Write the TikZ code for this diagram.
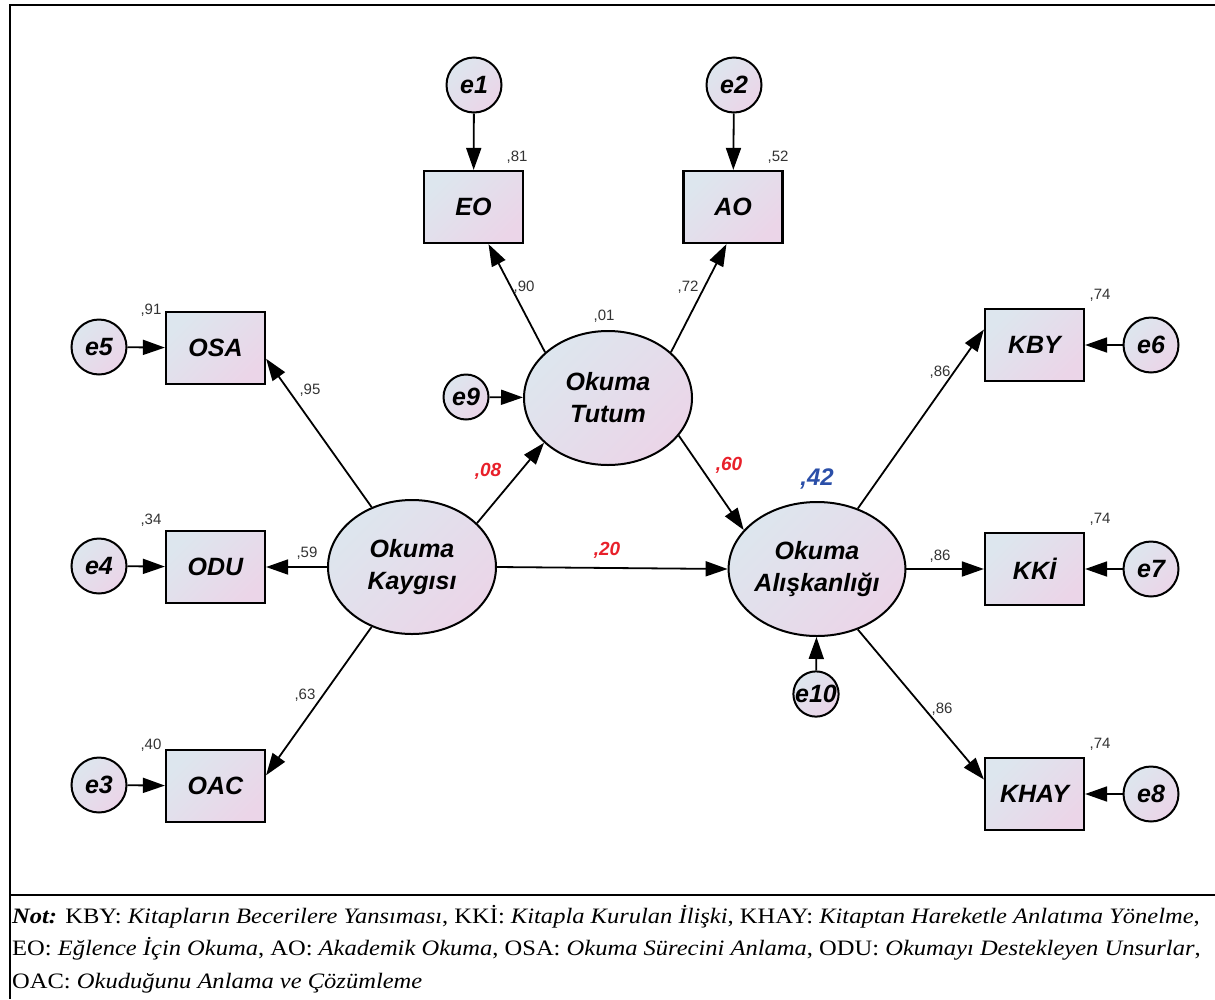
\documentclass[tikz,border=0pt]{standalone}
\usepackage{fontspec}
\setmainfont{Liberation Serif}
\setsansfont{Liberation Sans}
\usetikzlibrary{arrows.meta,shapes.geometric}
\definecolor{cA}{HTML}{DDE6EE}
\definecolor{cB}{HTML}{EBD5E8}
\definecolor{lblgray}{HTML}{333333}
\definecolor{valred}{HTML}{E8202A}
\definecolor{valblue}{HTML}{2B4FA8}
\tikzset{
  fillgrad/.style={shading=axis, top color=cA, bottom color=cB, shading angle=45},
  obs/.style={rectangle, draw=black, line width=2.2pt, fillgrad, minimum width=99pt, minimum height=72pt, inner sep=0pt,
    font=\sffamily\bfseries\itshape\fontsize{25}{30}\selectfont},
  lat/.style={ellipse, draw=black, line width=2pt, fillgrad, minimum width=168pt, minimum height=134pt, inner sep=0pt, align=center,
    font=\sffamily\bfseries\itshape\fontsize{25}{32}\selectfont},
  errc/.style={circle, draw=black, line width=2pt, fillgrad, minimum size=55pt, inner sep=0pt,
    font=\sffamily\bfseries\itshape\fontsize{25}{30}\selectfont},
  errs/.style={errc, minimum size=45pt},
  lbl/.style={inner sep=0pt, text=lblgray, font=\sffamily\fontsize{15}{18}\selectfont},
  redlbl/.style={inner sep=0pt, text=valred, font=\sffamily\bfseries\itshape\fontsize{19}{22}\selectfont},
  bluelbl/.style={inner sep=0pt, text=valblue, font=\sffamily\bfseries\itshape\fontsize{24}{28}\selectfont},
  conn/.style={line width=1.8pt, -{Triangle[length=22pt,width=15pt]}},
  notetext/.style={anchor=base west, inner sep=0pt, font=\fontsize{22}{26}\selectfont}
}
\newcommand{\notescale}[1]{\scalebox{1.115}[1]{#1}}
\begin{document}
\begin{tikzpicture}[x=1pt,y=-1pt]
\useasboundingbox (0,0) rectangle (1215,999);
% frame
\draw[line width=2pt] (1215,5) -- (10,5) -- (10,999);
\draw[line width=2pt] (10,895) -- (1215,895);

% latent variables
\node[lat] (kaygi) at (412,567) {Okuma\\Kaygısı};
\node[lat] (tutum) at (608,398) {Okuma\\Tutum};
\node[lat] (alis) at (817,569) {Okuma\\Alışkanlığı};

% observed
\node[obs] (eo) at (473.5,207) {EO};
\node[obs] (ao) at (733,207) {AO};
\node[obs] (osa) at (215.5,348) {OSA};
\node[obs] (odu) at (215.5,567) {ODU};
\node[obs] (oac) at (215.5,786) {OAC};
\node[obs] (kby) at (1034.5,345) {KBY};
\node[obs] (kki) at (1034.5,569) {KKİ};
\node[obs] (khay) at (1034.5,794) {KHAY};

% errors
\node[errc] (e1) at (474,85) {e1};
\node[errc] (e2) at (734,85) {e2};
\node[errc] (e5) at (99,347) {e5};
\node[errc] (e4) at (99,566) {e4};
\node[errc] (e3) at (99,785) {e3};
\node[errc] (e6) at (1151,345) {e6};
\node[errc] (e7) at (1151,569) {e7};
\node[errc] (e8) at (1151,794) {e8};
\node[errs] (e9) at (466,397) {e9};
\node[errs] (e10) at (816,694) {e10};

% error arrows
\draw[conn] (e1) -- (eo);
\draw[conn] (e2) -- (ao);
\draw[conn] (e5) -- (osa);
\draw[conn] (e4) -- (odu);
\draw[conn] (e3) -- (oac);
\draw[conn] (e6) -- (kby);
\draw[conn] (e7) -- (kki);
\draw[conn] (e8) -- (khay);
\draw[conn] (e9) -- (tutum);
\draw[conn] (e10) -- (alis);

% loadings and paths
\draw[conn] (tutum.144) -- (eo.-68);
\draw[conn] (tutum.36) -- (ao.260);
\draw[conn] (kaygi.124) -- (osa.-12);
\draw[conn] (kaygi.west) -- (odu.east);
\draw[conn] (kaygi.236) -- (oac.12);
\draw[conn] (kaygi.34) -- (tutum.215);
\draw[conn] (tutum.-28) -- (alis.152);
\draw[conn] (kaygi.east) -- (alis.west);
\draw[conn] (alis.56) -- (kby.163);
\draw[conn] (alis.east) -- (kki.west);
\draw[conn] (alis.-56) -- (khay.164);

% small labels
\node[lbl] (r81) at (517,157) {,81};
\node[lbl] (r52) at (778,157) {,52};
\node[lbl] (r91) at (151,310) {,91};
\node[lbl] (r34) at (151,520) {,34};
\node[lbl] (r40) at (151,745) {,40};
\node[lbl] (r74a) at (1100,295) {,74};
\node[lbl] (r74b) at (1100,519) {,74};
\node[lbl] (r74c) at (1100,744) {,74};
\node[lbl] (r01) at (604,316) {,01};
\node[lbl] (l95) at (310,390) {,95};
\node[lbl] (l59) at (307,553) {,59};
\node[lbl] (l63) at (305,695) {,63};
\node[lbl] (l90) at (524,287) {,90};
\node[lbl] (l72) at (688,287) {,72};
\node[lbl] (l86a) at (940,372) {,86};
\node[lbl] (l86b) at (940,556) {,86};
\node[lbl] (l86c) at (942,709) {,86};

\node[redlbl] (p08) at (488,471) {,08};
\node[redlbl] (p60) at (729,465) {,60};
\node[redlbl] (p20) at (607,550) {,20};
\node[bluelbl] (r42) at (817,479) {,42};

% note
\node[notetext] (n1) at (12,923) {\notescale{\textbf{\textit{Not:}} KBY: \textit{Kitapların Becerilere Yansıması}, KKİ: \textit{Kitapla Kurulan İlişki}, KHAY: \textit{Kitaptan Hareketle Anlatıma Yönelme},}};
\node[notetext] (n2) at (12,955) {\notescale{EO: \textit{Eğlence İçin Okuma}, AO: \textit{Akademik Okuma}, OSA: \textit{Okuma Sürecini Anlama}, ODU: \textit{Okumayı Destekleyen Unsurlar},}};
\node[notetext] (n3) at (12,988) {\notescale{OAC: \textit{Okuduğunu Anlama ve Çözümleme}}};
\end{tikzpicture}
\end{document}
